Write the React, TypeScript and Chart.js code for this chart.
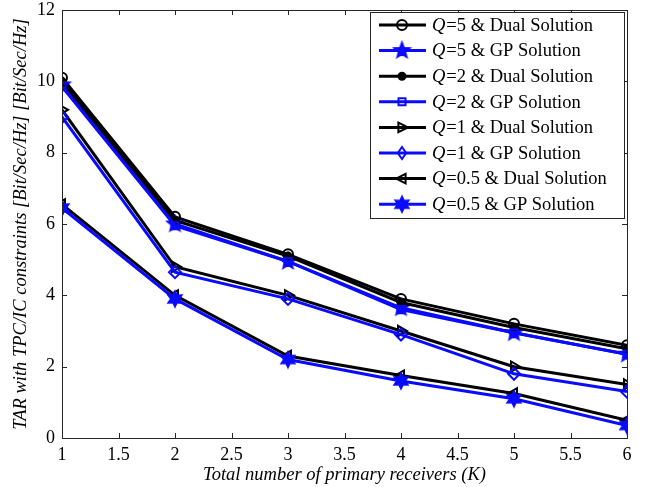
import React, { useEffect, useRef } from "react";
import { Chart, registerables } from "chart.js";
Chart.register(...registerables);

const K = [1, 2, 3, 4, 5, 6];
const q5Dual = [10.1, 6.2, 5.15, 3.9, 3.2, 2.6];
const q5GP = [9.9, 6.0, 4.95, 3.65, 2.95, 2.35];
const q2Dual = [10.0, 6.1, 5.1, 3.8, 3.1, 2.5];
const q2GP = [9.85, 5.95, 4.95, 3.6, 2.95, 2.35];
const q1Dual = [9.2, 4.8, 4.0, 3.0, 2.0, 1.5];
const q1GP = [9.0, 4.65, 3.9, 2.9, 1.8, 1.3];
const q05Dual = [6.55, 4.0, 2.3, 1.75, 1.25, 0.5];
const q05GP = [6.45, 3.9, 2.2, 1.6, 1.1, 0.35];

const qValues = ["5", "5", "2", "2", "1", "1", "0.5", "0.5"];
const solutions = ["Dual", "GP", "Dual", "GP", "Dual", "GP", "Dual", "GP"];

const xTitle = "Total number of primary receivers (K)";
const yTitle = "TAR with TPC/IC constraints [Bit/Sec/Hz] [Bit/Sec/Hz]";

const BLUE = "#0a0aff";
const BLACK = "#000000";
const SERIF = "'Liberation Serif', 'Times New Roman', serif";

function starCanvas(points: number, outer: number, inner: number, color: string) {
  const s = Math.ceil(outer * 2 + 4);
  const c = document.createElement("canvas");
  c.width = s;
  c.height = s;
  const ctx = c.getContext("2d")!;
  ctx.translate(s / 2, s / 2);
  ctx.beginPath();
  for (let i = 0; i < points * 2; i++) {
    const r = i % 2 === 0 ? outer : inner;
    const a = -Math.PI / 2 + (i * Math.PI) / points;
    const px = r * Math.cos(a);
    const py = r * Math.sin(a);
    if (i === 0) ctx.moveTo(px, py);
    else ctx.lineTo(px, py);
  }
  ctx.closePath();
  ctx.fillStyle = color;
  ctx.fill();
  ctx.strokeStyle = color;
  ctx.lineWidth = 1.5;
  ctx.stroke();
  return c;
}

export default function App() {
  const ref = useRef<HTMLCanvasElement>(null);

  useEffect(() => {
    document.body.style.margin = "0";
    const pent = starCanvas(5, 8.5, 3.6, BLUE);
    const hexa = starCanvas(6, 8, 4.2, BLUE);

    const series = [q5Dual, q5GP, q2Dual, q2GP, q1Dual, q1GP, q05Dual, q05GP];
    const styles: any[] = [
      { color: BLACK, pointStyle: "circle", radius: 5, fill: false, rot: 0 },
      { color: BLUE, pointStyle: pent, radius: 8, fill: true, rot: 0 },
      { color: BLACK, pointStyle: "circle", radius: 3.5, fill: true, rot: 0 },
      { color: BLUE, pointStyle: "rect", radius: 5, fill: false, rot: 0 },
      { color: BLACK, pointStyle: "triangle", radius: 6, fill: false, rot: 90 },
      { color: BLUE, pointStyle: "rectRot", radius: 6, fill: false, rot: 0 },
      { color: BLACK, pointStyle: "triangle", radius: 6, fill: false, rot: -90 },
      { color: BLUE, pointStyle: hexa, radius: 8, fill: true, rot: 0 },
    ];

    const datasets = series.map((d, i) => {
      const st = styles[i];
      return {
        label: `Q=${qValues[i]} & ${solutions[i]} Solution`,
        data: K.map((k, j) => ({ x: k, y: d[j] })),
        borderColor: st.color,
        backgroundColor: st.fill ? st.color : "rgba(0,0,0,0)",
        borderWidth: 3,
        pointStyle: st.pointStyle,
        pointRadius: st.radius,
        pointBorderWidth: 2,
        pointBorderColor: st.color,
        pointBackgroundColor: st.fill ? st.color : "rgba(0,0,0,0)",
        pointRotation: st.rot,
        fill: false,
        tension: 0,
        order: 8 - i,
      };
    });

    function drawPoint(ctx: CanvasRenderingContext2D, st: any, x: number, y: number) {
      const r = st.radius;
      if (typeof st.pointStyle !== "string") {
        const img = st.pointStyle as HTMLCanvasElement;
        ctx.drawImage(img, x - img.width / 2, y - img.height / 2);
        return;
      }
      ctx.beginPath();
      if (st.pointStyle === "circle") {
        ctx.arc(x, y, r, 0, Math.PI * 2);
      } else if (st.pointStyle === "rect") {
        ctx.rect(x - r * 0.7, y - r * 0.7, r * 1.4, r * 1.4);
      } else if (st.pointStyle === "rectRot") {
        ctx.moveTo(x, y - r);
        ctx.lineTo(x + r * 0.7, y);
        ctx.lineTo(x, y + r);
        ctx.lineTo(x - r * 0.7, y);
        ctx.closePath();
      } else if (st.pointStyle === "triangle") {
        const dir = st.rot > 0 ? 1 : -1;
        ctx.moveTo(x + dir * r, y);
        ctx.lineTo(x - dir * r * 0.6, y - r * 0.8);
        ctx.lineTo(x - dir * r * 0.6, y + r * 0.8);
        ctx.closePath();
      }
      if (st.fill) ctx.fill();
      ctx.stroke();
    }

    const boxPlugin = {
      id: "boxAndLegend",
      afterDraw(chart: any) {
        const { ctx, chartArea: a, scales } = chart;
        ctx.save();
        ctx.strokeStyle = "#262626";
        ctx.lineWidth = 1;
        ctx.strokeRect(Math.round(a.left) + 0.5, Math.round(a.top) + 0.5, Math.round(a.right - a.left), Math.round(a.bottom - a.top));
        const tl = 5;
        ctx.beginPath();
        scales.x.ticks.forEach((t: any) => {
          const px = Math.round(scales.x.getPixelForValue(t.value)) + 0.5;
          ctx.moveTo(px, a.bottom);
          ctx.lineTo(px, a.bottom - tl);
          ctx.moveTo(px, a.top);
          ctx.lineTo(px, a.top + tl);
        });
        scales.y.ticks.forEach((t: any) => {
          const py = Math.round(scales.y.getPixelForValue(t.value)) + 0.5;
          ctx.moveTo(a.left, py);
          ctx.lineTo(a.left + tl, py);
          ctx.moveTo(a.right, py);
          ctx.lineTo(a.right - tl, py);
        });
        ctx.stroke();

        // legend
        const lx = 370, ly = 12, lw = a.right - 3 - 370, lh = 206;
        ctx.fillStyle = "#ffffff";
        ctx.fillRect(lx, ly, lw, lh);
        ctx.strokeStyle = "#262626";
        ctx.strokeRect(lx + 0.5, ly + 0.5, lw, lh);
        chart.data.datasets.forEach((ds: any, i: number) => {
          const y = 25 + i * 25.6;
          ctx.strokeStyle = ds.borderColor;
          ctx.lineWidth = 3;
          ctx.beginPath();
          ctx.moveTo(379, y);
          ctx.lineTo(426, y);
          ctx.stroke();
          const st = styles[i];
          ctx.save();
          ctx.strokeStyle = st.color;
          ctx.fillStyle = st.fill ? st.color : "rgba(0,0,0,0)";
          ctx.lineWidth = 2;
          drawPoint(ctx, st, 402, y);
          ctx.restore();
          ctx.fillStyle = "#000";
          ctx.textBaseline = "middle";
          ctx.font = `italic 18.5px ${SERIF}`;
          ctx.fillText("Q", 432, y + 1);
          const qw = ctx.measureText("Q").width;
          ctx.font = `18.5px ${SERIF}`;
          ctx.fillText(`=${qValues[i]} & ${solutions[i]} Solution`, 432 + qw + 1, y + 1);
        });
        ctx.restore();
      },
    };

    const chart = new Chart(ref.current!, {
      type: "line",
      data: { datasets: datasets as any },
      plugins: [boxPlugin],
      options: {
        animation: false,
        responsive: false,
        devicePixelRatio: 1,
        layout: { padding: { top: 9, right: 25, left: 0, bottom: 0 } },
        plugins: { legend: { display: false }, tooltip: { enabled: false } },
        scales: {
          x: {
            type: "linear",
            min: 1,
            max: 6,
            grid: { display: false },
            border: { display: false },
            ticks: {
              stepSize: 0.5,
              color: "#000",
              font: { family: SERIF, size: 18 },
              padding: -2,
              maxRotation: 0,
              callback: (v: any) => String(Number(v)),
            },
            title: { display: true, text: xTitle, color: "#000", font: { family: SERIF, size: 18.5, style: "italic" }, padding: { top: 0, bottom: 1 } },
            afterFit(scale: any) { scale.height = 49; },
          },
          y: {
            type: "linear",
            min: 0,
            max: 12,
            grid: { display: false },
            border: { display: false },
            ticks: { stepSize: 2, color: "#000", font: { family: SERIF, size: 18 }, padding: -1 },
            title: { display: true, text: yTitle, color: "#000", font: { family: SERIF, size: 18.5, style: "italic" }, padding: { top: 10, bottom: 0 } },
            afterFit(scale: any) { scale.width = 62; },
          },
        },
      },
    });
    return () => chart.destroy();
  }, []);

  return (
    <div style={{ position: "fixed", left: 0, top: 0, width: 652, height: 487, background: "#fff" }}>
      <canvas ref={ref} width={652} height={487} />
    </div>
  );
}
